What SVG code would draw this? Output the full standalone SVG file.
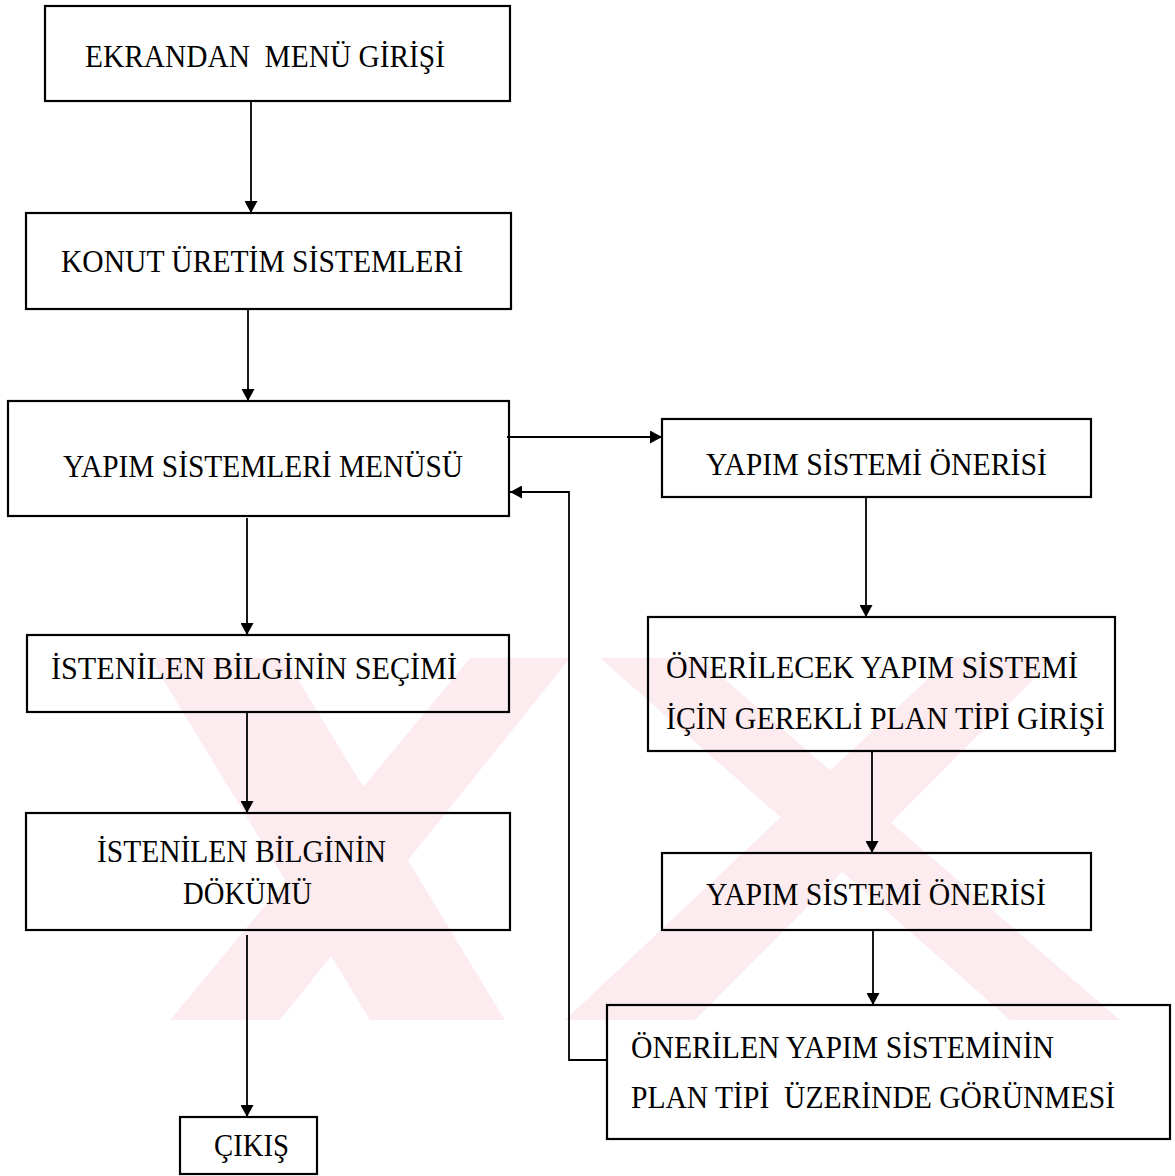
<svg xmlns="http://www.w3.org/2000/svg" width="1175" height="1176" viewBox="0 0 1175 1176">
<style>
.box{fill:none;stroke:#000;stroke-width:2.2}
.lbl{font-family:"Liberation Serif","Times New Roman",serif;font-size:32px;fill:#000}
.con{fill:none;stroke:#000;stroke-width:1.8}
.wm{fill:#fdecef;stroke:none}
.wg{fill:#fff;stroke:none}
</style>
<defs>
<marker id="ah" markerUnits="userSpaceOnUse" markerWidth="12" markerHeight="13" refX="12" refY="6.5" orient="auto">
<path d="M0,0 L12,6.5 L0,13 z" fill="#000"/>
</marker>
<clipPath id="wmclip"><rect x="130" y="658" width="990" height="362"/></clipPath>
</defs>
<rect x="0" y="0" width="1175" height="1176" fill="#fff"/>
<g id="watermark" clip-path="url(#wmclip)">
<polygon class="wm" points="150,658 285,658 505,1020 370,1020"/>
<polygon class="wm" points="470,658 570,658 280,1020 170,1020"/>
<polygon class="wm" points="600,658 700,658 1120,1020 1010,1020"/>
<polygon class="wm" points="950,658 1055,658 695,1020 565,1020"/>
</g>
<g id="connectors">
<line class="con" x1="251" y1="101" x2="251" y2="213" marker-end="url(#ah)"/>
<line class="con" x1="248" y1="309" x2="248" y2="401" marker-end="url(#ah)"/>
<line class="con" x1="247" y1="518" x2="247" y2="635" marker-end="url(#ah)"/>
<line class="con" x1="247" y1="712" x2="247" y2="813" marker-end="url(#ah)"/>
<line class="con" x1="247" y1="935" x2="247" y2="1117" marker-end="url(#ah)"/>
<line class="con" x1="507" y1="437" x2="662" y2="437" marker-end="url(#ah)"/>
<line class="con" x1="866" y1="497" x2="866" y2="617" marker-end="url(#ah)"/>
<line class="con" x1="872" y1="751" x2="872" y2="853" marker-end="url(#ah)"/>
<line class="con" x1="873" y1="930" x2="873" y2="1005" marker-end="url(#ah)"/>
<polyline class="con" points="607,1060 569,1060 569,492 510,492" marker-end="url(#ah)"/>
</g>
<g id="n1"><rect class="box" x="45" y="6" width="465" height="95"/><text class="lbl" x="85" y="67" textLength="360" lengthAdjust="spacingAndGlyphs" xml:space="preserve">EKRANDAN  MENÜ GİRİŞİ</text></g>
<g id="n2"><rect class="box" x="26" y="213" width="485" height="96"/><text class="lbl" x="61" y="272" textLength="402" lengthAdjust="spacingAndGlyphs">KONUT ÜRETİM SİSTEMLERİ</text></g>
<g id="n3"><rect class="box" x="8" y="401" width="501" height="115"/><text class="lbl" x="63" y="477" textLength="400" lengthAdjust="spacingAndGlyphs">YAPIM SİSTEMLERİ MENÜSÜ</text></g>
<g id="n4"><rect class="box" x="27" y="635" width="482" height="77"/><text class="lbl" x="51" y="679" textLength="406" lengthAdjust="spacingAndGlyphs">İSTENİLEN BİLGİNİN SEÇİMİ</text></g>
<g id="n5"><rect class="box" x="26" y="813" width="484" height="117"/><text class="lbl" x="97" y="862" textLength="289" lengthAdjust="spacingAndGlyphs">İSTENİLEN BİLGİNİN</text><text class="lbl" x="183" y="904" textLength="129" lengthAdjust="spacingAndGlyphs">DÖKÜMÜ</text></g>
<g id="n6"><rect class="box" x="180" y="1117" width="137" height="57"/><text class="lbl" x="214" y="1156" textLength="75" lengthAdjust="spacingAndGlyphs">ÇIKIŞ</text></g>
<g id="n7"><rect class="box" x="662" y="419" width="429" height="78"/><text class="lbl" x="706" y="475" textLength="341" lengthAdjust="spacingAndGlyphs">YAPIM SİSTEMİ ÖNERİSİ</text></g>
<g id="n8"><rect class="box" x="648" y="617" width="467" height="134"/><text class="lbl" x="666" y="678" textLength="412" lengthAdjust="spacingAndGlyphs">ÖNERİLECEK YAPIM SİSTEMİ</text><text class="lbl" x="666" y="729" textLength="439" lengthAdjust="spacingAndGlyphs">İÇİN GEREKLİ PLAN TİPİ GİRİŞİ</text></g>
<g id="n9"><rect class="box" x="662" y="853" width="429" height="77"/><text class="lbl" x="706" y="905" textLength="340" lengthAdjust="spacingAndGlyphs">YAPIM SİSTEMİ ÖNERİSİ</text></g>
<g id="n10"><rect class="box" x="607" y="1005" width="563" height="134"/><text class="lbl" x="631" y="1058" textLength="423" lengthAdjust="spacingAndGlyphs">ÖNERİLEN YAPIM SİSTEMİNİN</text><text class="lbl" x="631" y="1108" textLength="484" lengthAdjust="spacingAndGlyphs" xml:space="preserve">PLAN TİPİ  ÜZERİNDE GÖRÜNMESİ</text></g>
</svg>
